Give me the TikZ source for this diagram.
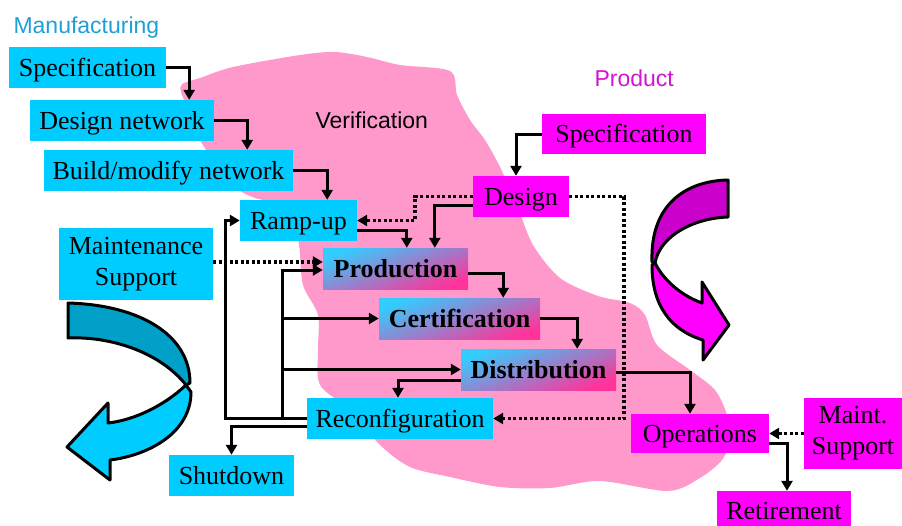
\documentclass[tikz,border=0pt]{standalone}
\usepackage{fontspec}
\setmainfont{Liberation Serif}
\setsansfont{Liberation Sans}
\usetikzlibrary{calc,positioning,arrows.meta}
\definecolor{cyan1}{RGB}{0,204,255}
\definecolor{cyan2}{RGB}{0,160,200}
\definecolor{magenta1}{RGB}{255,0,255}
\definecolor{magenta2}{RGB}{204,0,204}
\definecolor{pink1}{RGB}{255,153,204}
\definecolor{blue1}{RGB}{30,160,215}
\definecolor{purple1}{RGB}{210,20,210}
\definecolor{gradtop}{RGB}{51,204,255}
\definecolor{gradbot}{RGB}{255,51,153}

\begin{document}
\begin{tikzpicture}[x=1pt, y=-1pt,
  boxbase/.style={inner sep=0pt, font=\fontsize{26}{31}\selectfont},
  box/.style={boxbase, minimum height=41pt, text height=17pt, text depth=0pt},
  mbox/.style={box, fill=cyan1},
  pbox/.style={box, fill=magenta1},
  gbox/.style={box, font=\fontsize{26}{31}\selectfont\bfseries, top color=gradtop, bottom color=gradbot, shading angle=20},
  mbox2/.style={boxbase, align=center, fill=cyan1},
  pbox2/.style={boxbase, align=center, fill=magenta1},
  arr/.style={line width=3pt, -{Triangle[length=10pt,width=11pt]}},
  dotarr/.style={arr, line width=3.5pt, dash pattern=on 3pt off 2.5pt},
  lbl/.style={font=\sffamily\fontsize{23}{25}\selectfont},
  bigarrow/.style={line width=3pt, line join=round}]

\useasboundingbox (0,0) rectangle (902,525);
\clip (0,0) rectangle (902,525);

% PINK VERIFICATION REGION
\fill[pink1] plot[smooth cycle, tension=0.5] coordinates {
  (182,84) (200,78) (233,67) (300,55) (335,52) (367,57) (400,65) (450,71)
  (457,95) (470,120) (485,140) (500,167) (517,205) (533,245) (560,278)
  (598,296) (630,303) (645,315) (657,345) (690,370) (715,390) (727,415)
  (730,440) (722,460) (700,478) (668,491) (600,481) (550,488) (500,487)
  (450,477) (410,467) (380,445) (350,410) (320,385) (318,350) (318,315)
  (303,285) (299,245) (290,208) (255,198) (233,186) (213,160) (196,133)
  (187,107) (181,92)};

% Labels
\node[lbl, text=blue1, anchor=base west] (mlabel) at (10,33) {Manufacturing};
\node[lbl, text=purple1, anchor=base west] (plabel) at (591,86) {Product};
\node[lbl, anchor=base west] (vlabel) at (312,128) {Verification};

% Manufacturing boxes
\node[mbox, minimum width=157pt] (mspec) at (87.5,67.5) {Specification};
\node[mbox, minimum width=184pt] (mdesign) at (122,120.5) {Design network};
\node[mbox, minimum width=249pt] (mbuild) at (168.5,170.5) {Build/modify network};
\node[mbox, minimum width=117pt] (rampup) at (298.5,220.5) {Ramp-up};
\node[mbox2, minimum width=154pt, minimum height=72pt] (mmaint) at (136,264) {Maintenance\\Support};
\node[gbox, minimum width=145pt] (prod) at (395.5,268.5) {Production};
\node[gbox, minimum width=161pt] (cert) at (459.5,318.5) {Certification};
\node[gbox, minimum width=155pt] (dist) at (538.5,369.5) {Distribution};
\node[mbox, minimum width=186pt] (reconf) at (400,418.5) {Reconfiguration};
\node[mbox, minimum width=125pt] (shutdown) at (231.5,475.5) {Shutdown};

% Product boxes
\node[pbox, minimum width=164pt, minimum height=40pt] (pspec) at (624,134) {Specification};
\node[pbox, minimum width=96pt] (pdesign) at (521,196.5) {Design};
\node[pbox, minimum width=138pt, minimum height=39pt] (ops) at (700,433.5) {Operations};
\node[pbox2, minimum width=98pt, minimum height=71pt] (pmaint) at (853,433.5) {Maint.\\Support};
\node[pbox, minimum width=134pt, minimum height=40pt] (retire) at (784,511) {Retirement};

% Manufacturing chain
\draw[arr] (mspec.east) -| ([xshift=-25pt]mdesign.north east);
\draw[arr] (mdesign.east) -| ([xshift=-46pt]mbuild.north east);
\draw[arr] (mbuild.east) -| ([xshift=-30pt]rampup.north east);
\draw[arr] ([yshift=-10pt]rampup.east) -| ([xshift=84pt]prod.north west);
\draw[arr] ([yshift=-4.5pt]prod.east) -| ([xshift=-37pt]cert.north east);
\draw[arr] (cert.east) -| ([xshift=-39pt]dist.north east);
\draw[dotarr] ([yshift=2pt]mmaint.east) -- ([yshift=2pt]mmaint.east -| prod.west);

% Product chain
\draw[arr] (pspec.west) -| ([xshift=-5pt]pdesign.north);
\draw[arr] ([yshift=-8.5pt]pdesign.west) -| ([xshift=112pt]prod.north west);
\draw[dotarr] (pdesign.west) -| ([xshift=58pt]rampup.east) -- (rampup.east);
\draw[dotarr] (pdesign.east) -| ([xshift=131pt]reconf.east) -- (reconf.east);
\draw[arr] ([yshift=-2.5pt]dist.east) -| ([xshift=-10pt]ops.north);
\draw[dotarr] (pmaint.west) -- (ops.east);
\draw[arr] ([yshift=-9.5pt]ops.east) -| ([xshift=3pt]retire.north);

% Feedback from reconfiguration
\coordinate (bus) at ([xshift=-24pt]reconf.west);
\draw[arr] (reconf.west) -| ([xshift=-14pt]rampup.west) -- (rampup.west);
\draw[arr] (bus) |- ([yshift=-1.5pt]prod.west);
\draw[arr] (bus) |- (cert.west);
\draw[arr] (bus) |- (dist.west);
\draw[arr] ([yshift=-10.5pt]dist.west) -| ([xshift=-2pt]reconf.north);
\draw[arr] ([yshift=-7.5pt]reconf.west) -| (shutdown.north);

% Cyan cycle arrow (left)
\draw[bigarrow, fill=cyan1] (186,385) .. controls (165,405) and (135,420) .. (108,423)
  -- (108,403) -- (67,447) -- (110,480) -- (110,460)
  .. controls (150,455) and (191,432) .. (191,392) -- cycle;
\draw[bigarrow, fill=cyan2] (68,303) .. controls (140,305) and (190,335) .. (190,383)
  -- (186,385) .. controls (160,352) and (110,336) .. (68,338) -- cycle;

% Magenta cycle arrow (right)
\draw[bigarrow, fill=magenta1] (655,263) .. controls (665,283) and (685,297) .. (702,303)
  -- (702,282) -- (729,325) -- (703,360) -- (703,340)
  .. controls (670,330) and (652,305) .. (652,265) -- cycle;
\draw[bigarrow, fill=magenta2] (728,180) -- (728,217)
  .. controls (695,218) and (660,235) .. (655,263)
  -- (652,262) .. controls (650,205) and (685,181) .. (728,180) -- cycle;

\end{tikzpicture}
\end{document}
